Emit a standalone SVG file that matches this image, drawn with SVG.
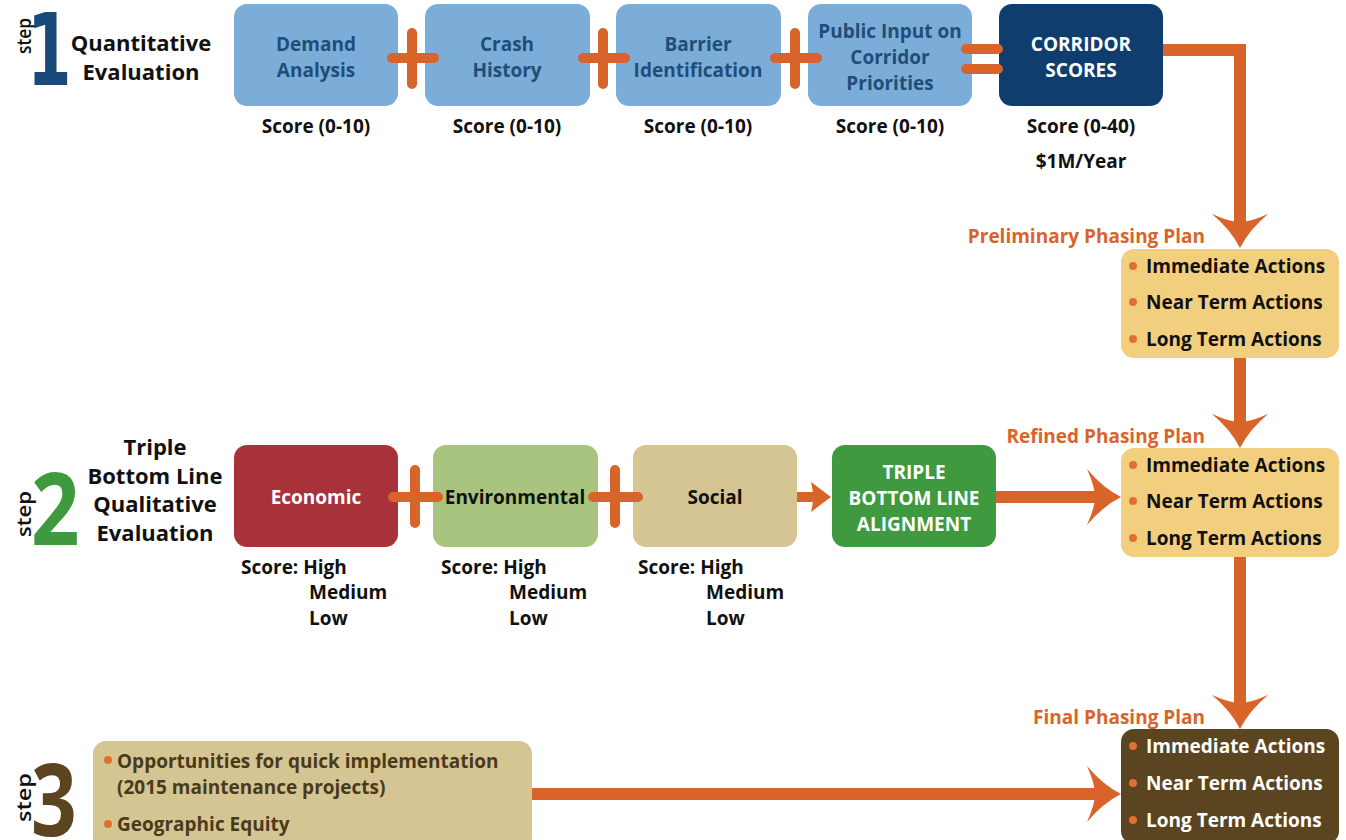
<svg xmlns="http://www.w3.org/2000/svg" width="1346" height="840" viewBox="0 0 1346 840">
<style>
text{font-family:"Open Sans","Liberation Sans",Arial,sans-serif;font-weight:bold}
.t{font-size:19px;text-anchor:middle}
.bl{fill:#1f4e79}
.wh{fill:#ffffff}
.bk{fill:#111111}
.lab{font-size:22px;fill:#111111;text-anchor:middle}
.sc{font-size:19px;fill:#111111}
.plan{font-size:19px;fill:#d9642a;text-anchor:end}
.act{font-size:19px}
.op{stroke:#d9642a;stroke-width:10;stroke-linecap:round;fill:none}
.ln{stroke:#d9642a;stroke-width:12;fill:none}
.dot{fill:#e07030}
.step{font-size:20px;font-weight:600;fill:#111111}
.dig{font-size:100px}
</style>
<defs>
<path id="ah" d="M0,0 Q-18,-9 -34,-28 Q-26,-10 -26,0 Q-26,10 -34,28 Q-18,9 0,0 Z" fill="#d9642a"/>
</defs>

<g id="step1-label">
<text class="step" transform="translate(31,54) rotate(-90)" textLength="36" lengthAdjust="spacingAndGlyphs">step</text>
<text class="dig" transform="translate(27,85) scale(0.64,1)" fill="#1a4a7a" style="font-family:'DejaVu Sans',sans-serif">1</text>
<text class="lab" x="141" y="51">Quantitative</text>
<text class="lab" x="141" y="80">Evaluation</text>
</g>

<g id="demand">
<rect x="234" y="4" width="164" height="102" rx="13" fill="#7badd8"/>
<text class="t bl" x="316" y="51">Demand</text>
<text class="t bl" x="316" y="77">Analysis</text>
<text class="sc" x="316" y="133" text-anchor="middle">Score (0-10)</text>
</g>
<g id="crash">
<rect x="425" y="4" width="165" height="102" rx="13" fill="#7badd8"/>
<text class="t bl" x="507" y="51">Crash</text>
<text class="t bl" x="507" y="77">History</text>
<text class="sc" x="507" y="133" text-anchor="middle">Score (0-10)</text>
</g>
<g id="barrier">
<rect x="616" y="4" width="165" height="102" rx="13" fill="#7badd8"/>
<text class="t bl" x="698" y="51">Barrier</text>
<text class="t bl" x="698" y="77">Identification</text>
<text class="sc" x="698" y="133" text-anchor="middle">Score (0-10)</text>
</g>
<g id="public">
<rect x="808" y="4" width="164" height="102" rx="13" fill="#7badd8"/>
<text class="t bl" x="890" y="38">Public Input on</text>
<text class="t bl" x="890" y="64">Corridor</text>
<text class="t bl" x="890" y="90">Priorities</text>
<text class="sc" x="890" y="133" text-anchor="middle">Score (0-10)</text>
</g>
<g id="corridor">
<rect x="999" y="4" width="164" height="102" rx="13" fill="#0f3d6e"/>
<text class="t wh" x="1081" y="51">CORRIDOR</text>
<text class="t wh" x="1081" y="77">SCORES</text>
<text class="sc" x="1081" y="133" text-anchor="middle">Score (0-40)</text>
<text class="sc" x="1081" y="168" text-anchor="middle">$1M/Year</text>
</g>

<g id="step2-label">
<text class="step" transform="translate(31,537) rotate(-90)" textLength="46" lengthAdjust="spacingAndGlyphs">step</text>
<text class="dig" transform="translate(31,545) scale(0.85,1)" fill="#3f9a3f">2</text>
<text class="lab" x="155" y="455">Triple</text>
<text class="lab" x="155" y="484">Bottom Line</text>
<text class="lab" x="155" y="512">Qualitative</text>
<text class="lab" x="155" y="541">Evaluation</text>
</g>

<g id="economic">
<rect x="234" y="445" width="164" height="102" rx="13" fill="#a8323a"/>
<text class="t wh" x="316" y="504">Economic</text>
<text class="sc" x="241" y="574">Score: High</text>
<text class="sc" x="309" y="599">Medium</text>
<text class="sc" x="309" y="625">Low</text>
</g>
<g id="environmental">
<rect x="433" y="445" width="165" height="102" rx="13" fill="#a9c47f"/>
<text class="t bk" x="515" y="504">Environmental</text>
<text class="sc" x="441" y="574">Score: High</text>
<text class="sc" x="509" y="599">Medium</text>
<text class="sc" x="509" y="625">Low</text>
</g>
<g id="social">
<rect x="633" y="445" width="164" height="102" rx="13" fill="#d4c593"/>
<text class="t bk" x="715" y="504">Social</text>
<text class="sc" x="638" y="574">Score: High</text>
<text class="sc" x="706" y="599">Medium</text>
<text class="sc" x="706" y="625">Low</text>
</g>
<g id="tbl">
<rect x="832" y="445" width="164" height="102" rx="13" fill="#3f9a3f"/>
<text class="t wh" x="914" y="479">TRIPLE</text>
<text class="t wh" x="914" y="505">BOTTOM LINE</text>
<text class="t wh" x="914" y="531">ALIGNMENT</text>
</g>

<g id="step3-label">
<text class="step" transform="translate(31,822) rotate(-90)" textLength="49" lengthAdjust="spacingAndGlyphs">step</text>
<text class="dig" transform="translate(31,836) scale(0.8,1)" fill="#5a4520">3</text>
</g>
<g id="step3-box">
<rect x="93" y="741" width="439" height="110" rx="13" fill="#d4c593"/>
<circle class="dot" cx="108" cy="760" r="4"/>
<text class="act" x="117" y="768" fill="#4a3a1a">Opportunities for quick implementation</text>
<text class="act" x="117" y="794" fill="#4a3a1a">(2015 maintenance projects)</text>
<circle class="dot" cx="108" cy="824" r="4"/>
<text class="act" x="117" y="831" fill="#4a3a1a">Geographic Equity</text>
</g>

<g id="plan1">
<text class="plan" x="1205" y="243">Preliminary Phasing Plan</text>
<rect x="1121" y="249" width="218" height="109" rx="13" fill="#f2cf7e"/>
<circle class="dot" cx="1133" cy="266" r="4"/><text class="act" x="1146" y="273" fill="#111">Immediate Actions</text>
<circle class="dot" cx="1133" cy="302" r="4"/><text class="act" x="1146" y="309" fill="#111">Near Term Actions</text>
<circle class="dot" cx="1133" cy="339" r="4"/><text class="act" x="1146" y="346" fill="#111">Long Term Actions</text>
</g>
<g id="plan2">
<text class="plan" x="1205" y="443">Refined Phasing Plan</text>
<rect x="1121" y="448" width="218" height="109" rx="13" fill="#f2cf7e"/>
<circle class="dot" cx="1133" cy="465" r="4"/><text class="act" x="1146" y="472" fill="#111">Immediate Actions</text>
<circle class="dot" cx="1133" cy="501" r="4"/><text class="act" x="1146" y="508" fill="#111">Near Term Actions</text>
<circle class="dot" cx="1133" cy="538" r="4"/><text class="act" x="1146" y="545" fill="#111">Long Term Actions</text>
</g>
<g id="plan3">
<text class="plan" x="1205" y="724">Final Phasing Plan</text>
<rect x="1121" y="729" width="218" height="115" rx="13" fill="#5a4520"/>
<circle class="dot" cx="1133" cy="746" r="4"/><text class="act" x="1146" y="753" fill="#fff">Immediate Actions</text>
<circle class="dot" cx="1133" cy="783" r="4"/><text class="act" x="1146" y="790" fill="#fff">Near Term Actions</text>
<circle class="dot" cx="1133" cy="820" r="4"/><text class="act" x="1146" y="827" fill="#fff">Long Term Actions</text>
</g>

<g id="connectors">
<path class="op" d="M412,33 V84 M392,58 H434"/>
<path class="op" d="M603,33 V84 M583,58 H625"/>
<path class="op" d="M795,33 V84 M775,58 H817"/>
<path class="op" d="M966,49 H998 M966,69 H998"/>
<path class="op" d="M415,470 V523 M393,497 H438"/>
<path class="op" d="M615,470 V523 M593,497 H638"/>
<path class="ln" d="M1163,50 H1240 V222"/>
<use href="#ah" transform="translate(1240,248) rotate(90)"/>
<path class="ln" d="M1240,358 V422"/>
<use href="#ah" transform="translate(1240,448) rotate(90)"/>
<path class="ln" d="M1240,557 V703"/>
<use href="#ah" transform="translate(1240,729) rotate(90)"/>
<path class="ln" d="M996,497 H1095"/>
<use href="#ah" transform="translate(1121,497)"/>
<path class="ln" d="M532,794 H1095"/>
<use href="#ah" transform="translate(1121,794)"/>
<path stroke="#d9642a" stroke-width="10" d="M797,497 H816"/>
<path fill="#d9642a" d="M831,497 L811,482 Q815,497 811,512 Z"/>
</g>
</svg>
